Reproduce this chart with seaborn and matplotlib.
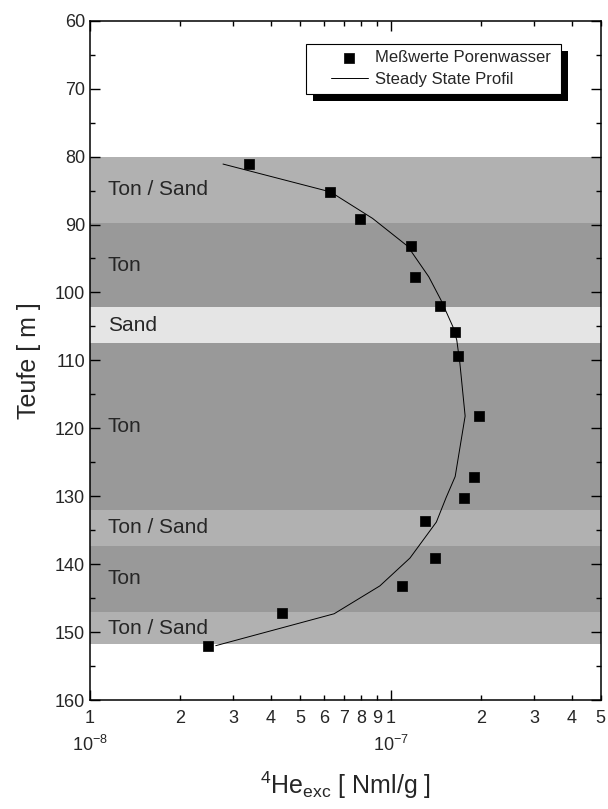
import numpy as np
import pandas as pd
import matplotlib
matplotlib.use("Agg")
import matplotlib.pyplot as plt
from matplotlib.patches import Rectangle
from matplotlib.legend_handler import HandlerLine2D, HandlerPathCollection
import seaborn as sns

# Measured 4He excess in pore water (Nml/g) versus depth (m)
depth_meas = [81.1, 85.2, 89.2, 93.1, 97.8, 102.0, 105.8, 109.3,
              118.2, 127.1, 130.2, 133.7, 139.1, 143.2, 147.2, 152.1]
he_meas = [3.39e-8, 6.31e-8, 7.90e-8, 1.17e-7, 1.21e-7, 1.46e-7, 1.64e-7, 1.67e-7,
           1.97e-7, 1.89e-7, 1.75e-7, 1.30e-7, 1.41e-7, 1.09e-7, 4.34e-8, 2.47e-8]

# Steady-state diffusion profile
depth_model = [81.1, 85.2, 89.1, 93.2, 97.7, 101.1, 105.0, 107.0, 110.4,
               118.2, 127.1, 130.2, 133.8, 139.1, 143.2, 147.3, 152.0]
he_model = [2.77e-8, 6.31e-8, 8.71e-8, 1.14e-7, 1.34e-7, 1.47e-7, 1.61e-7, 1.66e-7, 1.70e-7,
            1.77e-7, 1.64e-7, 1.53e-7, 1.42e-7, 1.16e-7, 9.21e-8, 6.49e-8, 2.62e-8]

# Lithology layers
layer_top = [80.0, 89.8, 102.2, 107.4, 132.0, 137.3, 147.0]
layer_bottom = [89.8, 102.2, 107.4, 132.0, 137.3, 147.0, 151.8]
layer_name = ["Ton / Sand", "Ton", "Sand", "Ton", "Ton / Sand", "Ton", "Ton / Sand"]
layer_color = {"Ton / Sand": "#b1b1b1", "Ton": "#999999", "Sand": "#e5e5e5"}

x_major = [1e-8, 1e-7]
x_major_labels = ["1", "1"]
x_decade_labels = ["$10^{-8}$", "$10^{-7}$"]
x_minor = [2e-8, 3e-8, 4e-8, 5e-8, 6e-8, 7e-8, 8e-8, 9e-8, 2e-7, 3e-7, 4e-7, 5e-7]
x_minor_labels = ["2", "3", "4", "5", "6", "7", "8", "9", "2", "3", "4", "5"]
y_ticks = [60, 70, 80, 90, 100, 110, 120, 130, 140, 150, 160]

sns.set_style("ticks")
plt.rcParams["font.family"] = ["Liberation Sans", "DejaVu Sans"]
plt.rcParams["mathtext.fontset"] = "custom"
plt.rcParams["mathtext.rm"] = "Liberation Sans"
plt.rcParams["mathtext.it"] = "Liberation Sans:italic"

meas = pd.DataFrame({"depth": depth_meas, "he": he_meas})
model = pd.DataFrame({"depth": depth_model, "he": he_model})

fig = plt.figure(figsize=(6.08, 8.09), dpi=100)
ax = fig.add_axes([0.148, 0.1347, 0.840, 0.8397])

for top, bot, name in zip(layer_top, layer_bottom, layer_name):
    ax.axhspan(top, bot, color=layer_color[name], lw=0, zorder=0)
    ax.text(0.035, (top + bot) / 2, name, transform=ax.get_yaxis_transform(),
            ha="left", va="center", fontsize=15, zorder=1)

sns.lineplot(data=model, x="he", y="depth", sort=False, estimator=None,
             color="black", lw=0.7, ax=ax, zorder=2, label="Steady State Profil")
sns.scatterplot(data=meas, x="he", y="depth", marker="s", s=62, color="black",
                edgecolor="black", linewidth=0.5, ax=ax, zorder=3,
                label="Meßwerte Porenwasser")

ax.set_xscale("log")
ax.set_xlim(1e-8, 5e-7)
ax.set_ylim(160, 60)
ax.set_xticks(x_major, labels=x_major_labels)
ax.set_xticks(x_minor, labels=x_minor_labels, minor=True)
ax.set_yticks(y_ticks)
ax.set_yticks(np.arange(65, 160, 10), minor=True)

# Decade multipliers under the mantissa labels
for xv, lab in zip(x_major, x_decade_labels):
    ax.text(xv, -0.066, lab, transform=ax.get_xaxis_transform(),
            ha="center", va="center", fontsize=13)

ax.tick_params(which="both", direction="in", top=True, right=True, labelsize=13,
               width=1, color="black")
ax.tick_params(which="major", length=7)
ax.tick_params(which="minor", length=3.5)
ax.tick_params(axis="x", which="both", pad=7)
for sp in ax.spines.values():
    sp.set_linewidth(1.1)
    sp.set_color("black")

ax.set_xlabel(r"$^{4}$He$_{\rm exc}$ [ Nml/g ]", fontsize=18, labelpad=31)
ax.set_ylabel("Teufe [ m ]", fontsize=18, labelpad=10)

handles, labels = ax.get_legend_handles_labels()
order = [labels.index("Meßwerte Porenwasser"), labels.index("Steady State Profil")]
leg_handles = [handles[i] for i in order]
leg_labels = [labels[i] for i in order]
hmap = {leg_handles[0]: HandlerPathCollection(xpad=1.1, sizes=[48]),
        leg_handles[1]: HandlerLine2D(xpad=1.1)}
leg = ax.legend(leg_handles, leg_labels, handler_map=hmap,
                loc="upper left", bbox_to_anchor=(0.423, 0.966, 0.499, 0.0),
                mode="expand", fontsize=12,
                frameon=True, fancybox=False, edgecolor="black", framealpha=1,
                borderpad=0.4, labelspacing=0.4, handlelength=3.3, handletextpad=0.45,
                borderaxespad=0)
leg.get_frame().set_linewidth(0.8)
leg.set_zorder(6)

# Drop shadow behind the legend box
fig.canvas.draw()
bb = leg.get_window_extent().transformed(fig.transFigure.inverted())
dx, dy = 7 / fig.bbox.width, -7 / fig.bbox.height
ax.add_patch(Rectangle((bb.x0 + dx, bb.y0 + dy), bb.width, bb.height,
                       transform=fig.transFigure, facecolor="black",
                       edgecolor="none", zorder=5, clip_on=False))

fig.savefig("out.png", dpi=100)
